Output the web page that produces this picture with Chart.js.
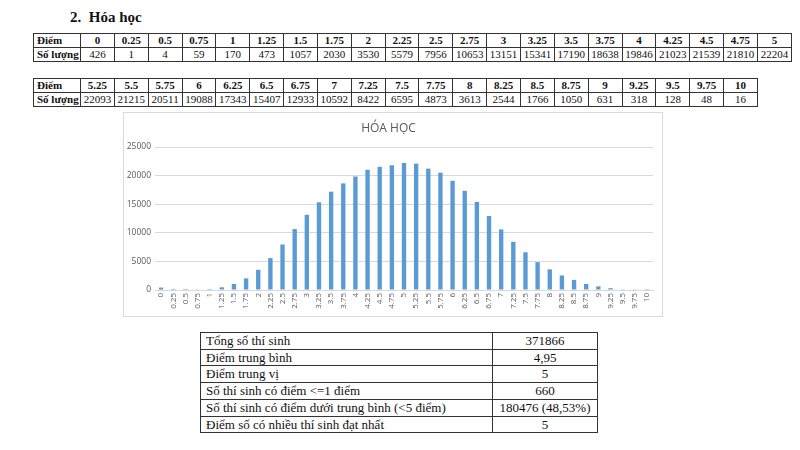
<!DOCTYPE html>
<html>
<head>
<meta charset="utf-8">
<script src="https://cdn.jsdelivr.net/npm/chart.js"></script>
<style>
body { margin: 0; width: 800px; height: 450px; background: #fff; position: relative; overflow: hidden;
       font-family: "Liberation Serif", "DejaVu Serif", serif; color: #111; }
h2 { position: absolute; left: 70px; top: 9px; margin: 0; font-size: 15px; font-weight: bold; }
table { border-collapse: collapse; position: absolute; table-layout: fixed; }
table.score { left: 33px; font-size: 11px; }
table.score td { border: 1px solid #333; height: 13px; padding: 0; text-align: center; line-height: 13px; white-space: nowrap; }
table.score td.head { text-align: left; padding-left: 3px; font-weight: bold; }
table.score tr.hdr td { font-weight: bold; }
#t1 { top: 33px; width: 759px; }
#t2 { top: 78px; width: 725px; }
#frame { position: absolute; left: 123px; top: 112px; width: 538px; height: 203px; border: 1px solid #d9d9d9; }
#chart { position: absolute; left: 124px; top: 113px; }
#stats { left: 200px; top: 332px; width: 398px; font-size: 13px; }
#stats td { border: 1px solid #333; height: 15.7px; padding: 0 5px; line-height: 15.7px; white-space: nowrap; }
#stats td.v { text-align: center; }
</style>
</head>
<body>
<h2>2.&nbsp;&nbsp;Hóa học</h2>
<table class="score" id="t1"><colgroup><col style="width:47px"></colgroup></table>
<table class="score" id="t2"><colgroup><col style="width:47px"></colgroup></table>
<div id="frame"></div>
<canvas id="chart" width="538" height="203"></canvas>
<table id="stats"><colgroup><col style="width:292px"><col></colgroup></table>

<script>
// scores and number of candidates per score
const scores = ['0', '0.25', '0.5', '0.75', '1', '1.25', '1.5', '1.75', '2', '2.25', '2.5', '2.75', '3', '3.25', '3.5', '3.75', '4', '4.25', '4.5', '4.75', '5',
                '5.25', '5.5', '5.75', '6', '6.25', '6.5', '6.75', '7', '7.25', '7.5', '7.75', '8', '8.25', '8.5', '8.75', '9', '9.25', '9.5', '9.75', '10'];
const counts = [426, 1, 4, 59, 170, 473, 1057, 2030, 3530, 5579, 7956, 10653, 13151, 15341, 17190, 18638, 19846, 21023, 21539, 21810, 22204,
                22093, 21215, 20511, 19088, 17343, 15407, 12933, 10592, 8422, 6595, 4873, 3613, 2544, 1766, 1050, 631, 318, 128, 48, 16];
const yTicks = [0, 5000, 10000, 15000, 20000, 25000];

const statLabels = ['Tổng số thí sinh', 'Điểm trung bình', 'Điểm trung vị', 'Số thí sinh có điểm <=1 điểm',
                    'Số thí sinh có điểm dưới trung bình (<5 điểm)', 'Điểm số có nhiều thí sinh đạt nhất'];
const statValues = ['371866', '4,95', '5', '660', '180476 (48,53%)', '5'];

function fillScoreTable(id, from, to) {
    const t = document.getElementById(id);
    let hdr = '<tr class="hdr"><td class="head">Điểm</td>';
    let row = '<tr><td class="head">Số lượng</td>';
    for (let i = from; i < to; i++) {
        hdr += `<td>${scores[i]}</td>`;
        row += `<td>${counts[i]}</td>`;
    }
    t.insertAdjacentHTML('beforeend', hdr + '</tr>' + row + '</tr>');
}
fillScoreTable('t1', 0, 21);
fillScoreTable('t2', 21, 41);

const stats = document.getElementById('stats');
statLabels.forEach((l, i) => {
    const tr = document.createElement('tr');
    const a = document.createElement('td');
    a.textContent = l;
    const b = document.createElement('td');
    b.className = 'v';
    b.textContent = statValues[i];
    tr.appendChild(a);
    tr.appendChild(b);
    stats.appendChild(tr);
});

new Chart(document.getElementById('chart').getContext('2d'), {
    type: 'bar',
    data: {
        labels: scores,
        datasets: [{
            data: counts,
            backgroundColor: '#5b9bd5',
            barPercentage: 0.36,
            categoryPercentage: 1
        }]
    },
    options: {
        responsive: false,
        animation: false,
        layout: { padding: { left: 0, right: 9, top: 0, bottom: 0 } },
        plugins: {
            legend: { display: false },
            tooltip: { enabled: false },
            title: {
                display: true,
                text: 'HÓA HỌC',
                color: '#595959',
                font: { family: 'Open Sans', size: 12, weight: 'normal' },
                padding: { top: 8, bottom: 11.6 }
            }
        },
        scales: {
            x: {
                grid: { display: false, drawTicks: false },
                border: { color: '#d9d9d9' },
                ticks: { minRotation: 90, maxRotation: 90, autoSkip: false, color: '#595959',
                         font: { family: 'Open Sans', size: 8 }, padding: 3 },
                afterFit(s) { s.height = 26; }
            },
            y: {
                min: yTicks[0],
                max: yTicks[yTicks.length - 1],
                afterBuildTicks(s) { s.ticks = yTicks.map(v => ({ value: v })); },
                ticks: { color: '#595959', font: { family: 'Open Sans', size: 8.5 }, padding: 4,
                         callback: v => String(v) },
                grid: { color: '#d9d9d9', drawTicks: false },
                border: { display: false },
                afterFit(s) { s.width = 31; }
            }
        }
    }
});
</script>
</body>
</html>
